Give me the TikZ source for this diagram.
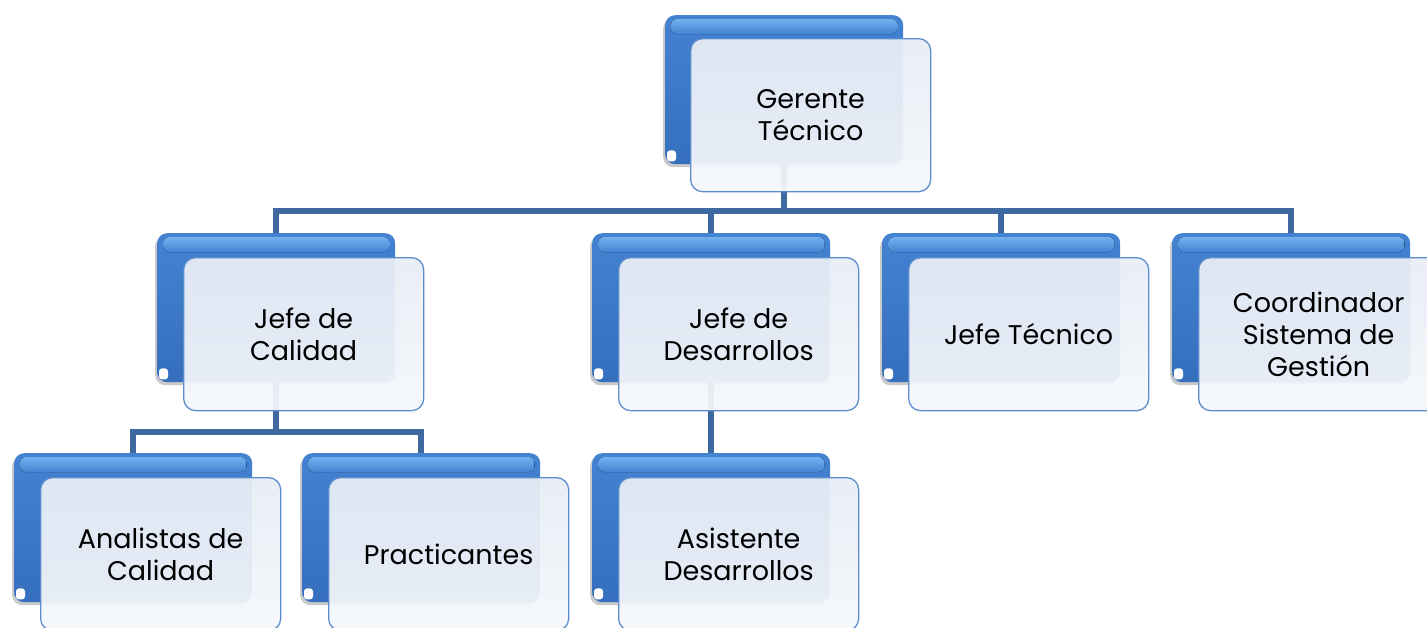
\documentclass[tikz,border=0pt]{standalone}
\usepackage{fontspec}
\setmainfont{Poppins}
\usetikzlibrary{shadows,backgrounds,calc}
\definecolor{blueTop}{HTML}{4483D2}
\definecolor{blueBot}{HTML}{356FBD}
\definecolor{blueHi}{HTML}{74B0EE}
\definecolor{frontTop}{HTML}{E8EDF6}
\definecolor{frontBot}{HTML}{F4F7FB}
\definecolor{frontLine}{HTML}{5B8CCB}
\definecolor{lineCol}{HTML}{3E69A0}
\tikzset{
  backbox/.style={draw=none, rounded corners=10pt, minimum width=238pt, minimum height=149pt,
    anchor=north west, inner sep=0pt, top color=blueTop, bottom color=blueBot,
    drop shadow={shadow xshift=-2pt, shadow yshift=-3pt, opacity=0.3, fill=black!70}},
  frontbox/.style={draw=frontLine, line width=1.3pt, rounded corners=12pt, minimum width=240pt,
    minimum height=153pt, anchor=north west, top color=frontTop, bottom color=frontBot,
    fill opacity=0.94, text opacity=1, align=center, inner sep=0pt,
    font=\fontsize{27}{32}\selectfont},
  conn/.style={draw=lineCol, line width=6pt},
  gloss/.style={rounded corners=6pt, top color=blueHi, bottom color=blueTop, draw=none},
  nick/.style={fill=white, rounded corners=3pt, draw=none}
}
\newcommand\orgbox[6]{%
  \node[backbox] (#1-b) at (#2,#3) {};
  \fill[gloss] ($(#1-b.north west)+(6,4)$) rectangle ($(#1-b.north east)+(-6,19)$);
  \fill[nick] ($(#1-b.south west)+(2,-14)$) rectangle ($(#1-b.south west)+(11,-3)$);
  \node[frontbox] (#1-f) at (#4,#5) {#6};
}
\begin{document}
\begin{tikzpicture}[x=1pt,y=-1pt]
\useasboundingbox (0,0) rectangle (1427,627);
\clip (0,0) rectangle (1427,627);
\orgbox{g}{665}{15}{690}{38}{Gerente\\Técnico}
\orgbox{jc}{157}{233}{183}{257}{Jefe de\\Calidad}
\orgbox{jd}{592}{233}{618}{257}{Jefe de\\Desarrollos}
\orgbox{jt}{882}{233}{908}{257}{Jefe Técnico}
\orgbox{cs}{1172}{233}{1198}{257}{Coordinador\\Sistema de\\Gestión}
\orgbox{ac}{14}{453}{40}{477}{Analistas de\\Calidad}
\orgbox{pr}{302}{453}{328}{477}{Practicantes}
\orgbox{ad}{592}{453}{618}{477}{Asistente\\Desarrollos}
\coordinate (bus1) at (0,211);
\coordinate (bus2) at (0,432);
\begin{scope}[on background layer]
  \draw[conn] (g-b.south) -- (g-b.south |- bus1);
  \draw[conn] (jc-b.north) -- (jc-b.north |- bus1) -- (cs-b.north |- bus1) -- (cs-b.north);
  \draw[conn] (jd-b.north |- bus1) -- (jd-b.north);
  \draw[conn] (jt-b.north |- bus1) -- (jt-b.north);
  \draw[conn] (jc-b.south) -- (jc-b.south |- bus2);
  \draw[conn] (ac-b.north) -- (ac-b.north |- bus2) -- (pr-b.north |- bus2) -- (pr-b.north);
  \draw[conn] (jd-b.south) -- (ad-b.north);
\end{scope}
\end{tikzpicture}
\end{document}
